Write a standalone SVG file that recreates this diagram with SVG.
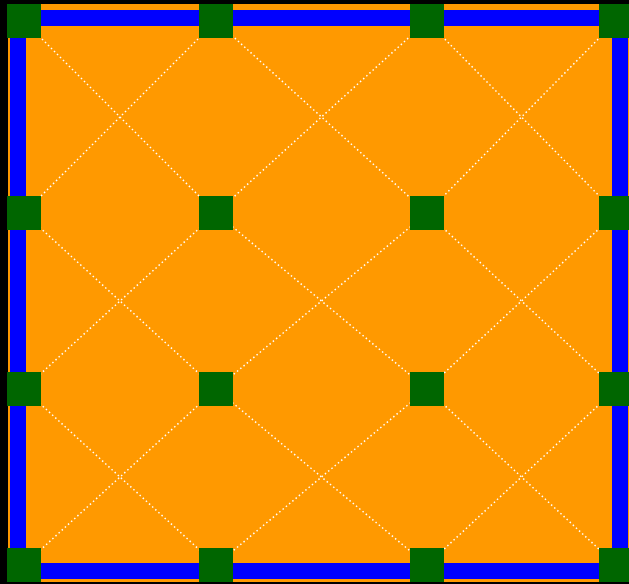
<svg xmlns="http://www.w3.org/2000/svg" width="629" height="584" viewBox="0 0 629 584">
<style>
.diag{stroke:#fff;stroke-width:1.5;stroke-dasharray:1.5,2.74;fill:none}
.n{fill:#006600}
</style>
<rect x="0" y="0" width="629" height="584" fill="#000"/>
<rect x="8" y="4" width="624" height="578" fill="#FF9900"/>
<rect x="18" y="18" width="602" height="553" fill="none" stroke="#0000FF" stroke-width="16"/>
<g id="connectors">
<line class="diag" x1="24" y1="21" x2="216" y2="213"/>
<line class="diag" x1="216" y1="21" x2="24" y2="213"/>
<line class="diag" x1="216" y1="21" x2="427" y2="213"/>
<line class="diag" x1="427" y1="21" x2="216" y2="213"/>
<line class="diag" x1="427" y1="21" x2="616" y2="213"/>
<line class="diag" x1="616" y1="21" x2="427" y2="213"/>
<line class="diag" x1="24" y1="213" x2="216" y2="389"/>
<line class="diag" x1="216" y1="213" x2="24" y2="389"/>
<line class="diag" x1="216" y1="213" x2="427" y2="389"/>
<line class="diag" x1="427" y1="213" x2="216" y2="389"/>
<line class="diag" x1="427" y1="213" x2="616" y2="389"/>
<line class="diag" x1="616" y1="213" x2="427" y2="389"/>
<line class="diag" x1="24" y1="389" x2="216" y2="565"/>
<line class="diag" x1="216" y1="389" x2="24" y2="565"/>
<line class="diag" x1="216" y1="389" x2="427" y2="565"/>
<line class="diag" x1="427" y1="389" x2="216" y2="565"/>
<line class="diag" x1="427" y1="389" x2="616" y2="565"/>
<line class="diag" x1="616" y1="389" x2="427" y2="565"/>
</g>
<g id="n00"><rect class="n" x="7" y="4" width="34" height="34"/></g>
<g id="n10"><rect class="n" x="199" y="4" width="34" height="34"/></g>
<g id="n20"><rect class="n" x="410" y="4" width="34" height="34"/></g>
<g id="n30"><rect class="n" x="599" y="4" width="34" height="34"/></g>
<g id="n01"><rect class="n" x="7" y="196" width="34" height="34"/></g>
<g id="n11"><rect class="n" x="199" y="196" width="34" height="34"/></g>
<g id="n21"><rect class="n" x="410" y="196" width="34" height="34"/></g>
<g id="n31"><rect class="n" x="599" y="196" width="34" height="34"/></g>
<g id="n02"><rect class="n" x="7" y="372" width="34" height="34"/></g>
<g id="n12"><rect class="n" x="199" y="372" width="34" height="34"/></g>
<g id="n22"><rect class="n" x="410" y="372" width="34" height="34"/></g>
<g id="n32"><rect class="n" x="599" y="372" width="34" height="34"/></g>
<g id="n03"><rect class="n" x="7" y="548" width="34" height="34"/></g>
<g id="n13"><rect class="n" x="199" y="548" width="34" height="34"/></g>
<g id="n23"><rect class="n" x="410" y="548" width="34" height="34"/></g>
<g id="n33"><rect class="n" x="599" y="548" width="34" height="34"/></g>
</svg>
